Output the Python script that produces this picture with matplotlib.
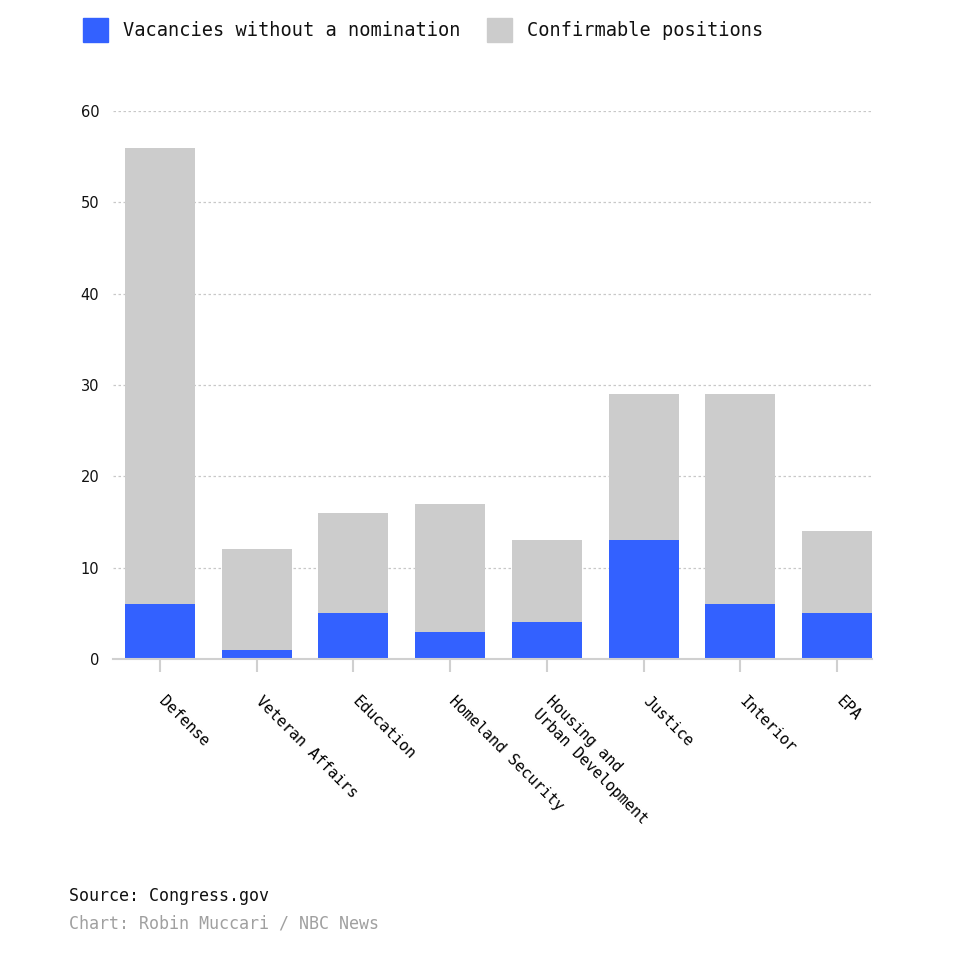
import matplotlib.pyplot as plt
from matplotlib.patches import Rectangle
from matplotlib.transforms import ScaledTranslation

departments = ['Defense', 'Veteran Affairs', 'Education', 'Homeland Security',
               'Housing and\nUrban Development', 'Justice', 'Interior', 'EPA']
confirmable = [56, 12, 16, 17, 13, 29, 29, 14]
vacancies = [6, 1, 5, 3, 4, 13, 6, 5]

BLUE = '#3361ff'
GRAY = '#cccccc'
MONO = 'DejaVu Sans Mono'


def main():
    fig = plt.figure(figsize=(9.76, 9.67), dpi=100)
    ax = fig.add_axes([0.1158, 0.3185, 0.7776, 0.5667])

    x = range(len(departments))
    ax.bar(x, confirmable, width=0.724, color=GRAY, zorder=2)
    ax.bar(x, vacancies, width=0.724, color=BLUE, zorder=3)

    ax.set_xlim(-0.486, 7.362)
    ax.set_ylim(0, 60)
    ax.set_yticks(range(0, 61, 10))
    ax.yaxis.grid(True, linestyle=(0, (2, 2)), color='#c8c8c8', linewidth=0.9, zorder=1)
    ax.set_axisbelow(True)

    for side in ['top', 'right', 'left']:
        ax.spines[side].set_visible(False)
    ax.spines['bottom'].set_color('#d0d0d0')
    ax.spines['bottom'].set_linewidth(1.5)
    ax.spines['bottom'].set_zorder(4)

    ax.tick_params(axis='y', length=0, pad=10, labelsize=10.5, labelcolor='#111111')
    ax.tick_params(axis='x', length=9, width=1.5, color='#d0d0d0', pad=16)
    ax.set_xticks(list(x))
    ax.set_xticklabels(departments, rotation=-45, ha='left', va='top',
                       rotation_mode='anchor', fontsize=11, family=MONO,
                       linespacing=1.25)
    # nudge the rotated labels a little to the right, as in the original
    shift = ScaledTranslation(5 / 72, 0, fig.dpi_scale_trans)
    for label in ax.get_xticklabels():
        label.set_transform(label.get_transform() + shift)

    # legend drawn by hand across the top
    fig.patches.append(Rectangle((83 / 976, 1 - 42 / 967), 25 / 976, 24 / 967,
                                 transform=fig.transFigure, color=BLUE))
    fig.text(123 / 976, 1 - 31 / 967, 'Vacancies without a nomination',
             family=MONO, fontsize=13.4, va='center', ha='left', color='#111111')
    fig.patches.append(Rectangle((487 / 976, 1 - 42 / 967), 25 / 976, 24 / 967,
                                 transform=fig.transFigure, color=GRAY))
    fig.text(527 / 976, 1 - 31 / 967, 'Confirmable positions',
             family=MONO, fontsize=13.4, va='center', ha='left', color='#111111')

    fig.text(69 / 976, 1 - 896 / 967, 'Source: Congress.gov',
             family=MONO, fontsize=12, va='center', ha='left', color='#111111')
    fig.text(69 / 976, 1 - 923 / 967, 'Chart: Robin Muccari / NBC News',
             family=MONO, fontsize=12, va='center', ha='left', color='#a0a0a0')

    fig.savefig('out.png', dpi=100)


if __name__ == '__main__':
    main()
